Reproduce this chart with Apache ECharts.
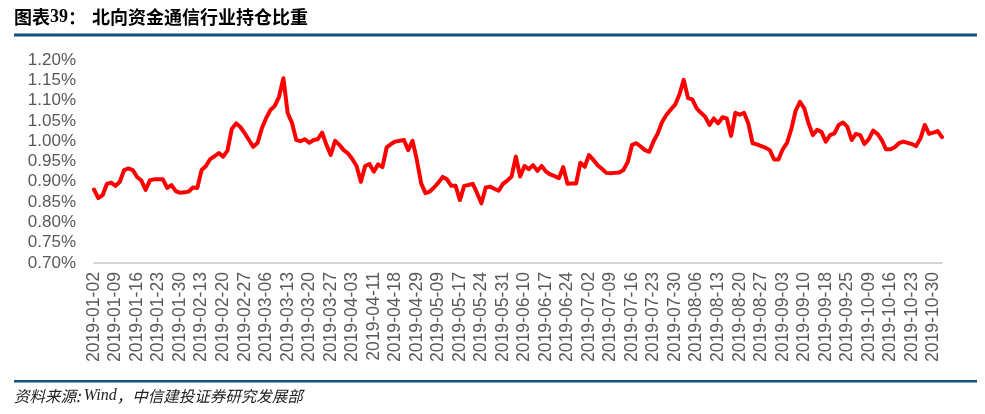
<!DOCTYPE html>
<html>
<head>
<meta charset="utf-8">
<script src="https://cdn.jsdelivr.net/npm/echarts@6/dist/echarts.min.js"></script>
<style>
html,body{margin:0;padding:0;background:#fff;}
#chart{width:985px;height:414px;}
</style>
</head>
<body>
<div id="chart"></div>
<script>
var titleLabel = '图表39：';
var titleText = '北向资金通信行业持仓比重';
var sourceText = '资料来源: Wind，中信建投证券研究发展部';

var categories = [
'2019-01-02','2019-01-03','2019-01-04','2019-01-07','2019-01-08','2019-01-09','2019-01-10','2019-01-11','2019-01-14','2019-01-15',
'2019-01-16','2019-01-17','2019-01-18','2019-01-21','2019-01-22','2019-01-23','2019-01-24','2019-01-25','2019-01-28','2019-01-29',
'2019-01-30','2019-01-31','2019-02-01','2019-02-11','2019-02-12','2019-02-13','2019-02-14','2019-02-15','2019-02-18','2019-02-19',
'2019-02-20','2019-02-21','2019-02-22','2019-02-25','2019-02-26','2019-02-27','2019-02-28','2019-03-01','2019-03-04','2019-03-05',
'2019-03-06','2019-03-07','2019-03-08','2019-03-11','2019-03-12','2019-03-13','2019-03-14','2019-03-15','2019-03-18','2019-03-19',
'2019-03-20','2019-03-21','2019-03-22','2019-03-25','2019-03-26','2019-03-27','2019-03-28','2019-03-29','2019-04-01','2019-04-02',
'2019-04-03','2019-04-04','2019-04-08','2019-04-09','2019-04-10','2019-04-11','2019-04-12','2019-04-15','2019-04-16','2019-04-17',
'2019-04-18','2019-04-23','2019-04-24','2019-04-25','2019-04-26','2019-04-29','2019-04-30','2019-05-06','2019-05-07','2019-05-08',
'2019-05-09','2019-05-10','2019-05-14','2019-05-15','2019-05-16','2019-05-17','2019-05-20','2019-05-21','2019-05-22','2019-05-23',
'2019-05-24','2019-05-27','2019-05-28','2019-05-29','2019-05-30','2019-05-31','2019-06-03','2019-06-04','2019-06-05','2019-06-06',
'2019-06-10','2019-06-11','2019-06-12','2019-06-13','2019-06-14','2019-06-17','2019-06-18','2019-06-19','2019-06-20','2019-06-21',
'2019-06-24','2019-06-25','2019-06-26','2019-06-27','2019-06-28','2019-07-02','2019-07-03','2019-07-04','2019-07-05','2019-07-08',
'2019-07-09','2019-07-10','2019-07-11','2019-07-12','2019-07-15','2019-07-16','2019-07-17','2019-07-18','2019-07-19','2019-07-22',
'2019-07-23','2019-07-24','2019-07-25','2019-07-26','2019-07-29','2019-07-30','2019-07-31','2019-08-01','2019-08-02','2019-08-05',
'2019-08-06','2019-08-07','2019-08-08','2019-08-09','2019-08-12','2019-08-13','2019-08-14','2019-08-15','2019-08-16','2019-08-19',
'2019-08-20','2019-08-21','2019-08-22','2019-08-23','2019-08-26','2019-08-27','2019-08-28','2019-08-29','2019-08-30','2019-09-02',
'2019-09-03','2019-09-04','2019-09-05','2019-09-06','2019-09-09','2019-09-10','2019-09-11','2019-09-12','2019-09-16','2019-09-17',
'2019-09-18','2019-09-19','2019-09-20','2019-09-23','2019-09-24','2019-09-25','2019-09-26','2019-09-27','2019-09-30','2019-10-08',
'2019-10-09','2019-10-10','2019-10-11','2019-10-14','2019-10-15','2019-10-16','2019-10-17','2019-10-18','2019-10-21','2019-10-22',
'2019-10-23','2019-10-24','2019-10-25','2019-10-28','2019-10-29','2019-10-30','2019-10-31','2019-11-01'
];

// holding weight, in percent
var weights = [
0.881,0.860,0.867,0.895,0.898,0.890,0.900,0.929,0.933,0.929,
0.912,0.903,0.880,0.904,0.906,0.906,0.906,0.885,0.892,0.877,
0.873,0.874,0.876,0.886,0.885,0.929,0.939,0.956,0.963,0.971,
0.962,0.977,1.030,1.044,1.035,1.020,1.003,0.986,0.996,1.032,
1.057,1.077,1.087,1.110,1.155,1.069,1.045,1.003,1.000,1.005,
0.996,1.003,1.005,1.021,0.991,0.966,1.001,0.991,0.978,0.970,
0.956,0.939,0.900,0.939,0.944,0.925,0.943,0.936,0.985,0.993,
0.999,1.001,1.003,0.978,1.001,0.954,0.896,0.872,0.876,0.886,
0.898,0.912,0.906,0.890,0.890,0.855,0.890,0.892,0.895,0.872,
0.847,0.886,0.888,0.883,0.878,0.895,0.903,0.913,0.962,0.913,
0.939,0.931,0.941,0.927,0.939,0.925,0.918,0.914,0.909,0.936,
0.895,0.896,0.896,0.947,0.937,0.966,0.954,0.941,0.932,0.922,
0.921,0.922,0.923,0.929,0.949,0.991,0.995,0.987,0.978,0.974,
1.000,1.020,1.048,1.065,1.078,1.090,1.115,1.151,1.106,1.103,
1.081,1.070,1.060,1.040,1.056,1.044,1.059,1.056,1.013,1.070,
1.065,1.070,1.044,0.995,0.992,0.988,0.984,0.978,0.955,0.955,
0.980,0.996,1.030,1.075,1.097,1.081,1.044,1.015,1.028,1.023,
0.999,1.015,1.019,1.040,1.046,1.036,1.003,1.018,1.015,0.993,
1.005,1.026,1.018,1.003,0.980,0.980,0.985,0.995,0.999,0.996,
0.993,0.988,1.007,1.040,1.018,1.021,1.025,1.010
];

var yMin = 0.70, yMax = 1.20, yStep = 0.05;

var chart = echarts.init(document.getElementById('chart'), null, {renderer: 'canvas'});
chart.setOption({
  animation: false,
  backgroundColor: '#ffffff',
  grid: {left: 94, right: 43, top: 60, bottom: 151, containLabel: false},
  xAxis: {
    type: 'category',
    data: categories,
    boundaryGap: false,
    axisLine: {show: true, lineStyle: {color: '#d4d4d4', width: 2}},
    axisTick: {show: false},
    splitLine: {show: false},
    axisLabel: {
      interval: 4,
      rotate: 90,
      margin: 9,
      color: '#595959',
      fontSize: 17.6,
      fontFamily: 'Liberation Sans, Arial, sans-serif'
    }
  },
  yAxis: {
    type: 'value',
    min: yMin,
    max: yMax,
    interval: yStep,
    axisLine: {show: false},
    axisTick: {show: false},
    splitLine: {show: false},
    axisLabel: {
      margin: 18,
      color: '#595959',
      fontSize: 17,
      fontFamily: 'Liberation Sans, Arial, sans-serif',
      formatter: function (v) { return v.toFixed(2) + '%'; }
    }
  },
  series: [{
    type: 'line',
    data: weights,
    showSymbol: false,
    symbol: 'none',
    lineStyle: {color: '#ff0000', width: 4, join: 'round', cap: 'round'},
    itemStyle: {color: '#ff0000'}
  }],
  graphic: [
    {type: 'text', left: 14, top: 8, style: {
      text: '{a|图表}{b|39}{a|：}',
      rich: {
        a: {fontSize: 18, fontWeight: 'bold', fontFamily: 'Noto Sans CJK SC', fill: '#000'},
        b: {fontSize: 18, fontWeight: 'bold', fontFamily: 'Liberation Serif', fill: '#000'}
      }
    }},
    {type: 'text', left: 92, top: 8, style: {
      text: titleText, fontSize: 18, fontWeight: 'bold', fontFamily: 'Noto Sans CJK SC', fill: '#000'
    }},
    {type: 'rect', shape: {x: 14, y: 33.5, width: 963, height: 3}, style: {fill: '#14507f'}},
    {type: 'rect', shape: {x: 14, y: 380, width: 963, height: 2.5}, style: {fill: '#14507f'}},
    {type: 'text', left: 14, top: 388, style: {
      text: '{a|资料来源: }{b|Wind}{a|，中信建投证券研究发展部}',
      rich: {
        a: {fontSize: 15.5, fontStyle: 'italic', fontFamily: 'Noto Sans CJK SC', fill: '#222'},
        b: {fontSize: 16, fontStyle: 'italic', fontFamily: 'Liberation Serif', fill: '#222'}
      }
    }}
  ]
});
</script>
</body>
</html>
